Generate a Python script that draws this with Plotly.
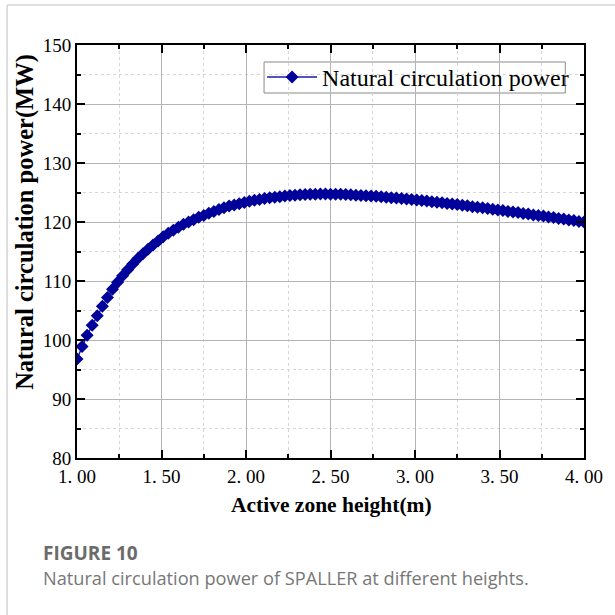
import plotly.graph_objects as go

heights = [1.00, 1.03, 1.06, 1.09, 1.12, 1.15, 1.18, 1.21, 1.24, 1.27,
           1.30, 1.33, 1.36, 1.39, 1.42, 1.45, 1.48, 1.51, 1.54, 1.57,
           1.60, 1.63, 1.66, 1.69, 1.72, 1.75, 1.78, 1.81, 1.84, 1.87,
           1.90, 1.93, 1.96, 1.99, 2.02, 2.05, 2.08, 2.11, 2.14, 2.17,
           2.20, 2.23, 2.26, 2.29, 2.32, 2.35, 2.38, 2.41, 2.44, 2.47,
           2.50, 2.53, 2.56, 2.59, 2.62, 2.65, 2.68, 2.71, 2.74, 2.77,
           2.80, 2.83, 2.86, 2.89, 2.92, 2.95, 2.98, 3.01, 3.04, 3.07,
           3.10, 3.13, 3.16, 3.19, 3.22, 3.25, 3.28, 3.31, 3.34, 3.37,
           3.40, 3.43, 3.46, 3.49, 3.52, 3.55, 3.58, 3.61, 3.64, 3.67,
           3.70, 3.73, 3.76, 3.79, 3.82, 3.85, 3.88, 3.91, 3.94, 3.97,
           4.00]

power = [96.8, 98.9, 100.8, 102.5, 104.1, 105.7, 107.2, 108.6, 109.8, 110.9,
         111.9, 112.9, 113.8, 114.6, 115.4, 116.1, 116.8, 117.5, 118.1, 118.6,
         119.1, 119.6, 120.0, 120.4, 120.8, 121.1, 121.5, 121.8, 122.1, 122.4,
         122.7, 122.9, 123.1, 123.3, 123.5, 123.7, 123.8, 124.0, 124.1, 124.2,
         124.3, 124.4, 124.5, 124.55, 124.6, 124.65, 124.7, 124.7, 124.75, 124.75,
         124.7, 124.7, 124.7, 124.65, 124.6, 124.55, 124.5, 124.45, 124.4, 124.35,
         124.3, 124.2, 124.1, 124.05, 124.0, 123.9, 123.8, 123.75, 123.65, 123.55,
         123.45, 123.35, 123.25, 123.15, 123.05, 122.95, 122.85, 122.75, 122.6, 122.5,
         122.4, 122.3, 122.15, 122.05, 121.95, 121.8, 121.7, 121.6, 121.45, 121.35,
         121.2, 121.1, 121.0, 120.85, 120.75, 120.6, 120.5, 120.35, 120.25, 120.1,
         120.0]

x_ticks = [1.0, 1.5, 2.0, 2.5, 3.0, 3.5, 4.0]
x_tick_labels = ["1. 00", "1. 50", "2. 00", "2. 50", "3. 00", "3. 50", "4. 00"]
y_ticks = [80, 90, 100, 110, 120, 130, 140, 150]

serif = "Liberation Serif, Times New Roman, serif"

# plot area in pixels
L, R, T, B = 77, 592, 45, 458
W, H = R - L, B - T


def px(x):
    return (x - L) / W


def py(y):
    return (B - y) / H


fig = go.Figure()
fig.add_trace(go.Scatter(
    x=heights, y=power, mode="lines+markers",
    name="Natural circulation power",
    line=dict(color="#1a1aa8", width=1.5),
    marker=dict(symbol="diamond", size=10, color="#00009a",
                line=dict(width=0)),
))

axis_common = dict(
    showline=True, linecolor="black", linewidth=2, mirror="ticks",
    ticks="inside", ticklen=8, tickwidth=2, tickcolor="black",
    showgrid=True, gridcolor="#b4b4b4", gridwidth=1,
    zeroline=False,
    tickfont=dict(family=serif, size=19, color="black"),
)

fig.update_xaxes(
    range=[1.0, 4.0], tickvals=x_ticks, ticktext=x_tick_labels,
    minor=dict(dtick=0.25, tick0=1.0, ticks="inside", ticklen=4, tickwidth=2,
               tickcolor="black", showgrid=True, gridcolor="#d6d6d6",
               griddash="dot", gridwidth=1),
    **axis_common,
)
fig.update_yaxes(
    range=[80, 150], tickvals=y_ticks,
    minor=dict(dtick=5, tick0=80, ticks="inside", ticklen=4, tickwidth=2,
               tickcolor="black", showgrid=True, gridcolor="#d6d6d6",
               griddash="dot", gridwidth=1),
    **axis_common,
)

fig.update_layout(
    width=615, height=615,
    margin=dict(l=L, r=615 - R, t=T, b=615 - B),
    paper_bgcolor="white", plot_bgcolor="white",
    showlegend=True,
    legend=dict(x=px(265), y=py(77.5), xanchor="left", yanchor="middle",
                bgcolor="rgba(0,0,0,0)", borderwidth=0,
                font=dict(family=serif, size=24, color="black"),
                itemwidth=50, tracegroupgap=0),
    shapes=[
        dict(type="line", xref="paper", yref="paper",
             x0=px(6), x1=px(640), y0=py(5), y1=py(5),
             line=dict(color="#d5d5d5", width=1.5)),
        dict(type="line", xref="paper", yref="paper",
             x0=px(6), x1=px(6), y0=py(5), y1=py(640),
             line=dict(color="#d5d5d5", width=1.5)),
        # legend frame
        dict(type="rect", xref="paper", yref="paper",
             x0=px(267), x1=px(573), y0=py(62), y1=py(93),
             fillcolor="white", line=dict(color="#8a8a8a", width=1),
             layer="between"),
    ],
    annotations=[
        dict(text="<b>Active zone height(m)</b>", xref="paper", yref="paper",
             x=px(336), y=py(505), xanchor="center", yanchor="middle",
             showarrow=False,
             font=dict(family=serif, size=21.5, color="black")),
        dict(text="<b>Natural circulation power(MW)</b>", xref="paper", yref="paper",
             x=px(24), y=py(222), xanchor="center", yanchor="middle",
             textangle=-90, showarrow=False,
             font=dict(family=serif, size=24.5, color="black")),
        dict(text="<b>FIGURE 10</b>", xref="paper", yref="paper",
             x=px(40), y=py(553), xanchor="left",
             yanchor="middle", showarrow=False,
             font=dict(family="Open Sans, sans-serif", size=19, color="#6b6b6b")),
        dict(text="Natural circulation power of SPALLER at different heights.",
             xref="paper", yref="paper",
             x=px(40), y=py(578), xanchor="left",
             yanchor="middle", showarrow=False,
             font=dict(family="Open Sans, sans-serif", size=18.2, color="#777777")),
    ],
)

fig.write_html("out.html")
